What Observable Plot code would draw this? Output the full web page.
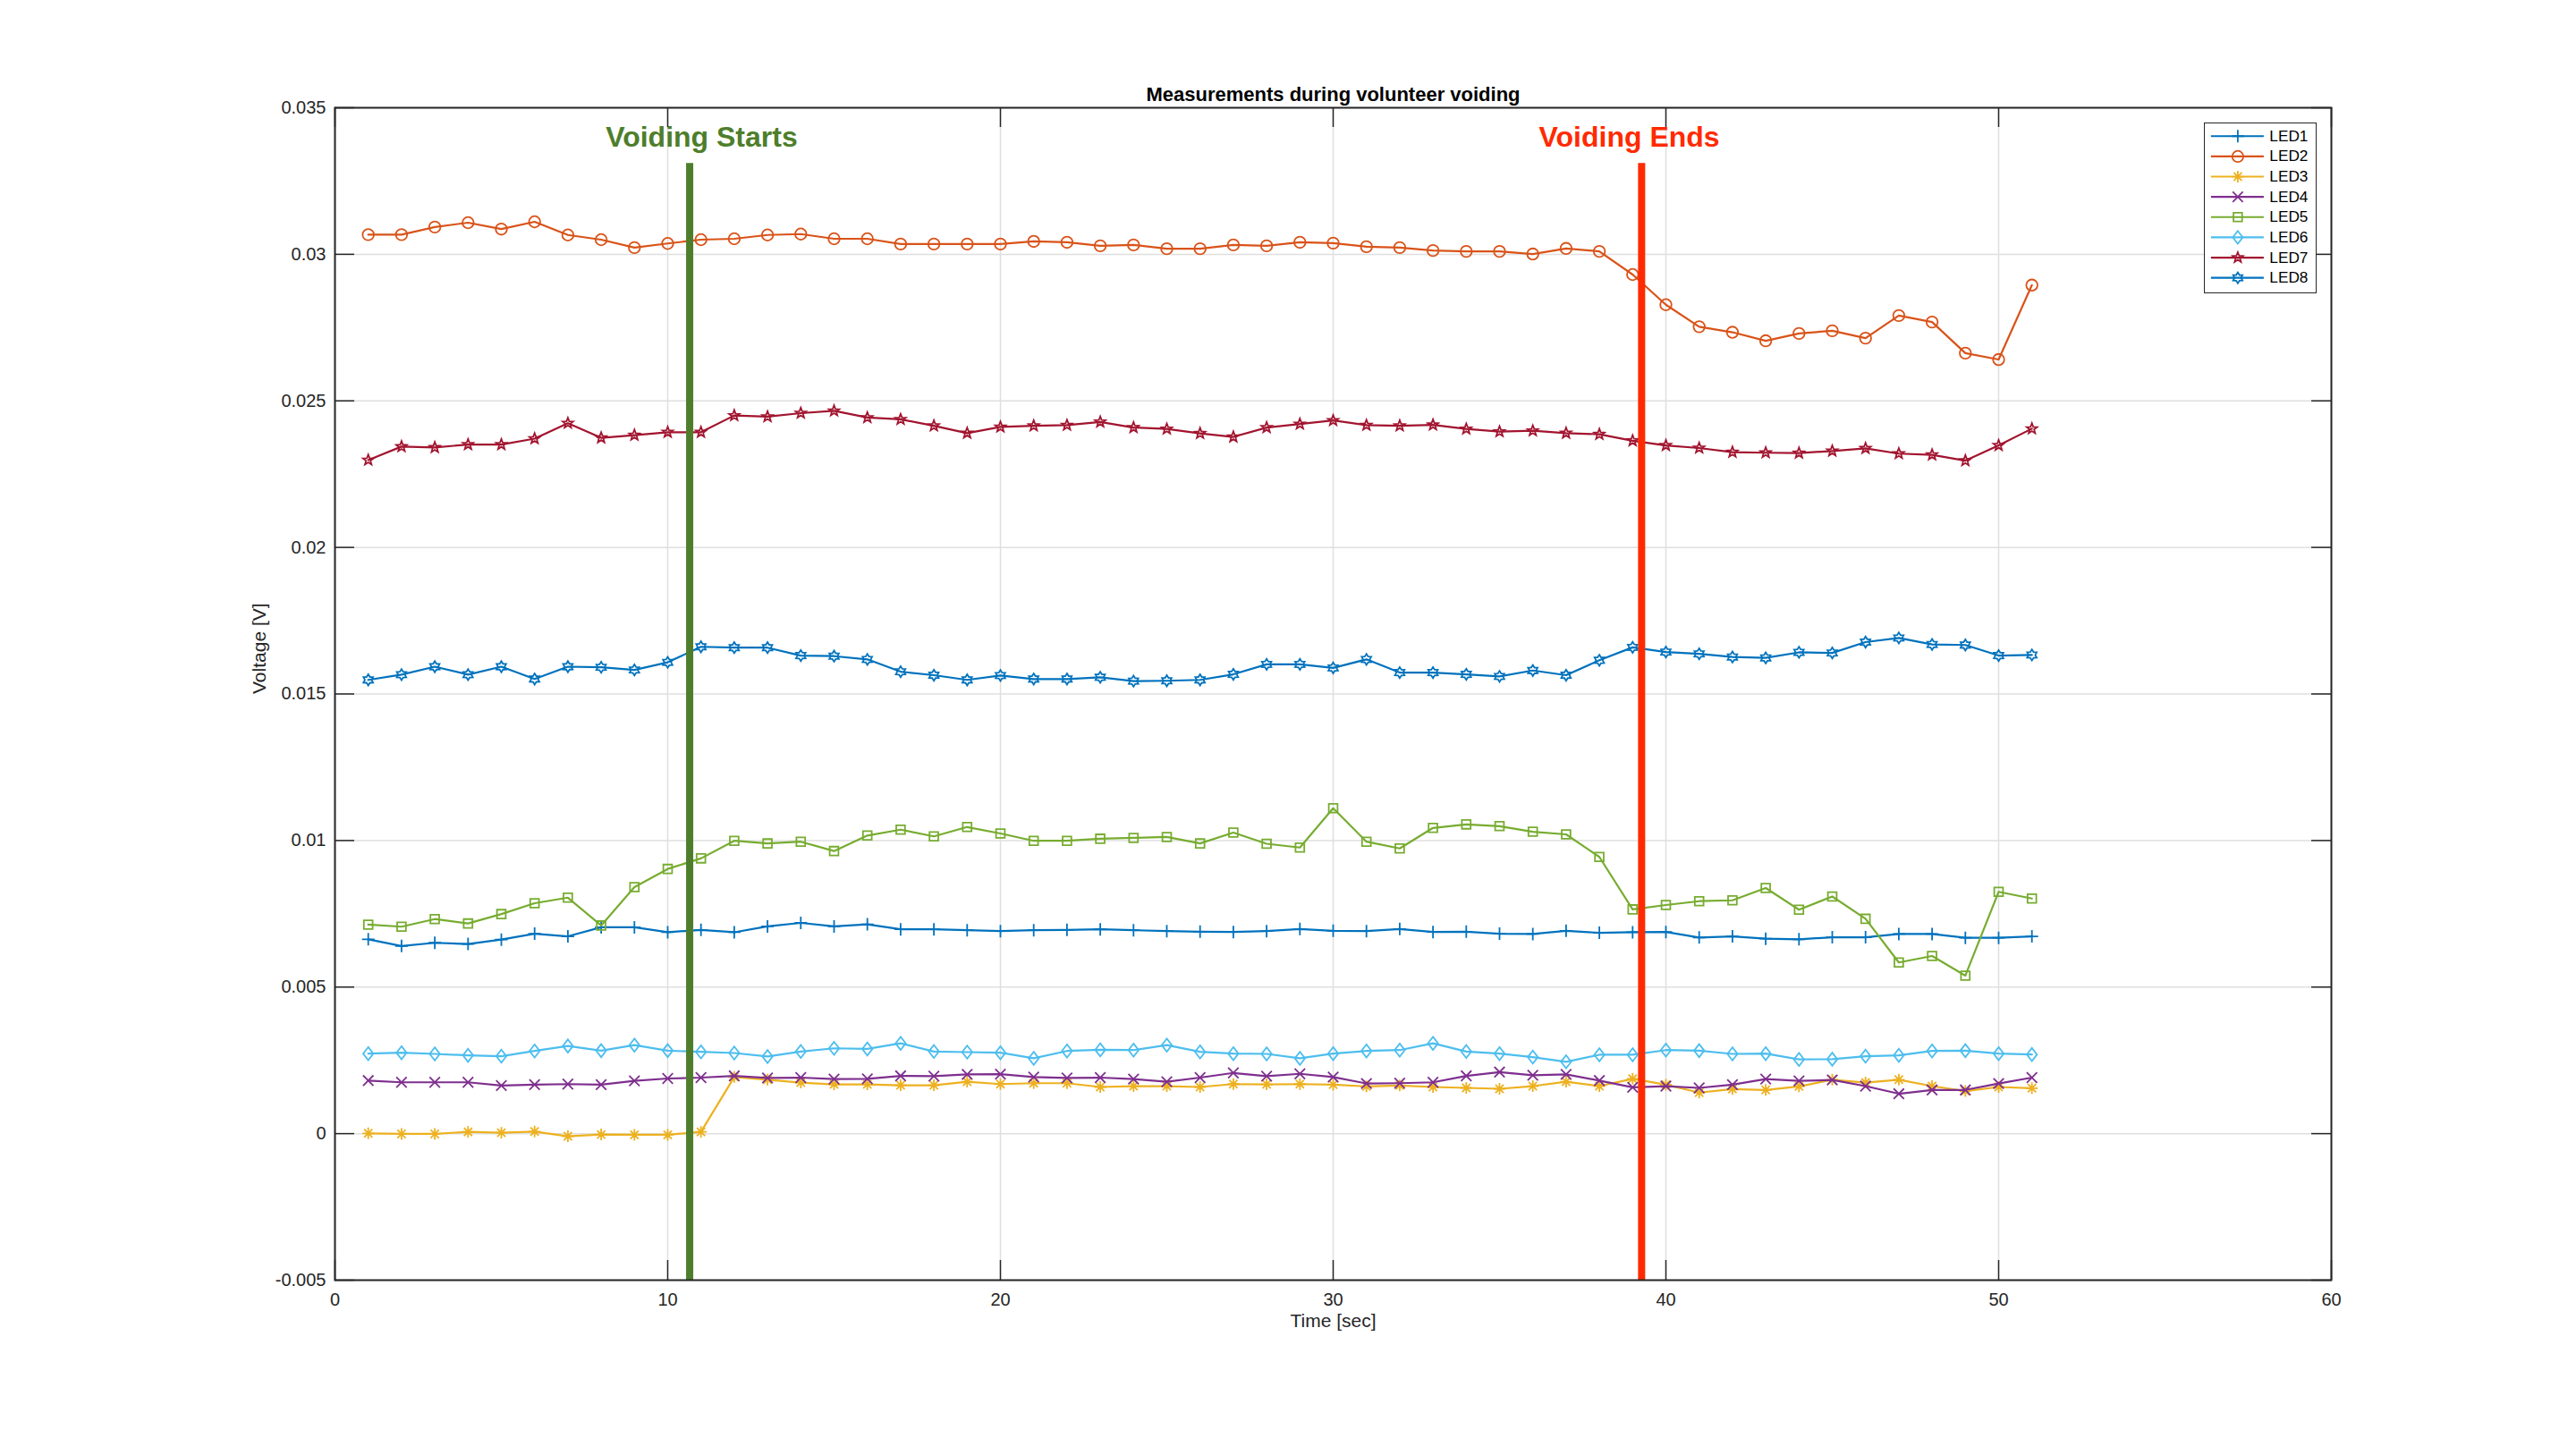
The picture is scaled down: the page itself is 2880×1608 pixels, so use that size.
<!DOCTYPE html>
<html>
<head>
<meta charset="utf-8">
<script src="https://cdn.jsdelivr.net/npm/d3@7"></script>
<script src="https://cdn.jsdelivr.net/npm/@observablehq/plot@0.6"></script>
<style>
  html, body { margin: 0; padding: 0; background: #fff; overflow: hidden; }
  #wrap { position: relative; width: 2880px; height: 1608px; }
  #wrap svg { display: block; }
  #legend { position: absolute; left: 2464px; top: 137px; width: 126px; height: 191px;
            box-sizing: border-box; border: 1.5px solid #262626; background: #fff; }
  #legend svg { position: absolute; left: -1.5px; top: -1.5px; }
</style>
</head>
<body>
<div id="wrap"><div id="legend"></div></div>
<script>
// ---------- data ----------
const title = "Measurements during volunteer voiding";
const xLabel = "Time [sec]";
const yLabel = "Voltage [V]";
const xTicks = [0, 10, 20, 30, 40, 50, 60];
const yTicks = [-0.005, 0, 0.005, 0.01, 0.015, 0.02, 0.025, 0.03, 0.035];
const seriesNames = ["LED1", "LED2", "LED3", "LED4", "LED5", "LED6", "LED7", "LED8"];
const time = [1,2,3,4,5,6,7,8,9,10,11,12,13,14,15,16,17,18,19,20,21,22,23,24,25,26,27,28,29,30,31,32,33,34,35,36,37,38,39,40,41,42,43,44,45,46,47,48,49,50,51];

const LED1 = [0.00663,0.00640,0.00651,0.00647,0.00662,0.00682,0.00673,0.00704,0.00704,0.00687,0.00695,0.00687,0.00707,0.00719,0.00707,0.00714,0.00697,0.00697,0.00694,0.00691,
  0.00694,0.00695,0.00697,0.00694,0.00691,0.00689,0.00688,0.00691,0.00698,0.00692,0.00691,0.00698,0.00688,0.00689,0.00682,0.00681,0.00692,0.00685,0.00687,
  0.00688,0.00669,0.00673,0.00665,0.00663,0.00670,0.00670,0.00681,0.00681,0.00668,0.00668,0.00673];
const LED2 = [0.03067,0.03067,0.03093,0.03108,0.03086,0.03111,0.03066,0.03050,0.03023,0.03037,0.03050,0.03053,0.03066,0.03069,0.03053,0.03053,0.03035,0.03035,0.03035,0.03035,
  0.03044,0.03041,0.03029,0.03032,0.03019,0.03019,0.03032,0.03029,0.03041,0.03038,0.03026,0.03023,0.03013,0.03010,0.03010,0.03001,0.03020,0.03010,0.02931,
  0.02828,0.02753,0.02734,0.02705,0.02730,0.02739,0.02714,0.02791,0.02769,0.02663,0.02641,0.02895];
const LED3 = [0.00001,-0.00001,-0.00001,0.00006,0.00003,0.00007,-0.00009,-0.00003,-0.00004,-0.00004,0.00006,0.00193,0.00184,0.00174,0.00168,0.00168,0.00165,0.00165,0.00177,0.00169,
  0.00172,0.00172,0.00159,0.00162,0.00162,0.00159,0.00169,0.00168,0.00169,0.00167,0.00161,0.00164,0.00159,0.00156,0.00153,0.00162,0.00177,0.00162,0.00187,
  0.00167,0.00140,0.00152,0.00149,0.00161,0.00184,0.00174,0.00184,0.00162,0.00145,0.00159,0.00155];
const LED4 = [0.00181,0.00175,0.00175,0.00175,0.00164,0.00167,0.00169,0.00167,0.00180,0.00188,0.00191,0.00197,0.00190,0.00191,0.00186,0.00187,0.00197,0.00196,0.00202,0.00203,
  0.00193,0.00190,0.00191,0.00186,0.00177,0.00191,0.00207,0.00196,0.00204,0.00193,0.00171,0.00172,0.00175,0.00197,0.00210,0.00199,0.00202,0.00181,0.00158,
  0.00162,0.00156,0.00167,0.00186,0.00180,0.00183,0.00162,0.00136,0.00149,0.00149,0.00171,0.00191];
const LED5 = [0.00713,0.00706,0.00732,0.00717,0.00749,0.00786,0.00805,0.00710,0.00841,0.00903,0.00939,0.00999,0.00990,0.00996,0.00964,0.01017,0.01037,0.01014,0.01046,0.01024,
  0.00999,0.00999,0.01006,0.01009,0.01012,0.00990,0.01027,0.00989,0.00976,0.01110,0.00996,0.00973,0.01043,0.01055,0.01049,0.01030,0.01021,0.00944,0.00765,
  0.00780,0.00793,0.00796,0.00838,0.00764,0.00809,0.00733,0.00584,0.00606,0.00539,0.00825,0.00802];
const LED6 = [0.00273,0.00276,0.00272,0.00267,0.00264,0.00282,0.00299,0.00283,0.00302,0.00283,0.00279,0.00275,0.00263,0.00280,0.00291,0.00289,0.00308,0.00280,0.00278,0.00276,
  0.00257,0.00282,0.00286,0.00285,0.00302,0.00279,0.00273,0.00272,0.00257,0.00273,0.00282,0.00285,0.00308,0.00280,0.00273,0.00261,0.00245,0.00269,0.00269,
  0.00285,0.00283,0.00272,0.00273,0.00253,0.00254,0.00264,0.00267,0.00282,0.00283,0.00273,0.00270];
const LED7 = [0.02298,0.02344,0.02341,0.02351,0.02351,0.02371,0.02424,0.02374,0.02383,0.02393,0.02393,0.02450,0.02446,0.02458,0.02466,0.02443,0.02437,0.02415,0.02390,0.02411,
  0.02415,0.02417,0.02428,0.02409,0.02404,0.02389,0.02377,0.02409,0.02421,0.02433,0.02417,0.02415,0.02418,0.02404,0.02395,0.02398,0.02390,0.02386,0.02364,
  0.02348,0.02339,0.02325,0.02323,0.02322,0.02329,0.02338,0.02320,0.02316,0.02296,0.02348,0.02405];
const LED8 = [0.01548,0.01566,0.01593,0.01566,0.01593,0.01551,0.01593,0.01591,0.01582,0.01608,0.01661,0.01658,0.01658,0.01631,0.01629,0.01618,0.01576,0.01564,0.01548,0.01563,
  0.01551,0.01551,0.01557,0.01544,0.01545,0.01548,0.01567,0.01601,0.01601,0.01589,0.01618,0.01573,0.01573,0.01567,0.01560,0.01580,0.01564,0.01615,0.01659,
  0.01643,0.01637,0.01626,0.01623,0.01642,0.01640,0.01677,0.01691,0.01669,0.01667,0.01631,0.01633];

const eventLabels = ["Voiding Starts", "Voiding Ends"];
const eventTimes = [10.66, 39.27];
const eventTops = [0.0331, 0.0331];
const eventLabelX = [11.02, 38.9];
const eventLabelY = [0.034, 0.034];

// ---------- styles ----------
const seriesColors = ["#0072BD", "#D95319", "#EDB120", "#7E2F8E", "#77AC30", "#4DBEEE", "#A2142F", "#0072BD"];
const seriesMarkers = ["plus", "circle", "asterisk", "times", "square", "diamond", "pentagram", "hexagram"];
const markerR = {plus: 7, circle: 6.3, asterisk: 6.5, times: 5.8, square: 4.9, diamond: 7.3, pentagram: 6.2, hexagram: 6.2};
const eventColors = ["#4E7E2B", "#FF2A00"];
const FONT = "'Liberation Sans', Arial, Helvetica, sans-serif";
const AXC = "#262626";

function makeSymbol(kind) {
  return {
    draw(ctx, size) {
      const r = Math.sqrt(size / Math.PI);
      const star = (n, inner) => {
        for (let k = 0; k < 2 * n; k++) {
          const a = -Math.PI / 2 + k * Math.PI / n;
          const rr = k % 2 === 0 ? r : r * inner;
          const px = rr * Math.cos(a), py = rr * Math.sin(a);
          if (k === 0) ctx.moveTo(px, py); else ctx.lineTo(px, py);
        }
        ctx.closePath();
      };
      switch (kind) {
        case "circle": ctx.moveTo(r, 0); ctx.arc(0, 0, r, 0, 2 * Math.PI); break;
        case "plus": ctx.moveTo(-r, 0); ctx.lineTo(r, 0); ctx.moveTo(0, -r); ctx.lineTo(0, r); break;
        case "times": ctx.moveTo(-r, -r); ctx.lineTo(r, r); ctx.moveTo(-r, r); ctx.lineTo(r, -r); break;
        case "asterisk": {
          const d = r * 0.7071;
          ctx.moveTo(-r, 0); ctx.lineTo(r, 0); ctx.moveTo(0, -r); ctx.lineTo(0, r);
          ctx.moveTo(-d, -d); ctx.lineTo(d, d); ctx.moveTo(-d, d); ctx.lineTo(d, -d); break;
        }
        case "square": ctx.moveTo(-r, -r); ctx.lineTo(r, -r); ctx.lineTo(r, r); ctx.lineTo(-r, r); ctx.closePath(); break;
        case "diamond": ctx.moveTo(0, -r); ctx.lineTo(0.78 * r, 0); ctx.lineTo(0, r); ctx.lineTo(-0.78 * r, 0); ctx.closePath(); break;
        case "pentagram": star(5, 0.42); break;
        case "hexagram": star(6, 0.6); break;
      }
    }
  };
}

const seriesValues = [LED1, LED2, LED3, LED4, LED5, LED6, LED7, LED8];

// ---------- main chart ----------
const marks = [
  Plot.ruleX(xTicks, {x: d => d, stroke: "#dfdfdf", strokeWidth: 1.5}),
  Plot.ruleY(yTicks, {y: d => d, stroke: "#dfdfdf", strokeWidth: 1.5})
];
seriesNames.forEach((name, i) => {
  const rows = time.map((t, j) => ({t, v: seriesValues[i][j]}));
  marks.push(Plot.line(rows, {x: "t", y: "v", stroke: seriesColors[i], strokeWidth: 2.2}));
  marks.push(Plot.dot(rows, {x: "t", y: "v", r: markerR[seriesMarkers[i]], symbol: makeSymbol(seriesMarkers[i]),
    stroke: seriesColors[i], fill: "none", strokeWidth: 1.8}));
});
eventLabels.forEach((label, i) => {
  marks.push(Plot.ruleX([eventTimes[i]], {x: d => d, y1: eventTops[i], y2: yTicks[0], stroke: eventColors[i], strokeWidth: 8, strokeLinecap: "butt"}));
  marks.push(Plot.text([label], {x: eventLabelX[i], y: eventLabelY[i], text: d => d, fill: eventColors[i],
    fontSize: 32, fontWeight: "bold", textAnchor: "middle"}));
});
marks.push(
  Plot.tickX(xTicks, {x: d => d, insetTop: 1311 - 22, stroke: AXC, strokeWidth: 1.5}),
  Plot.tickX(xTicks, {x: d => d, insetBottom: 1311 - 22, stroke: AXC, strokeWidth: 1.5}),
  Plot.tickY(yTicks, {y: d => d, insetRight: 2232 - 22, stroke: AXC, strokeWidth: 1.5}),
  Plot.tickY(yTicks, {y: d => d, insetLeft: 2232 - 22, stroke: AXC, strokeWidth: 1.5}),
  Plot.frame({stroke: AXC, strokeWidth: 2}),
  Plot.axisX({ticks: xTicks, tickSize: 0, tickPadding: 14, label: null, tickFormat: d => String(d), fontSize: 20}),
  Plot.axisY({ticks: yTicks, tickSize: 0, tickPadding: 10, label: null, tickFormat: d => d === 0 ? "0" : String(+d.toFixed(4)), fontSize: 20}),
  Plot.text([xLabel], {frameAnchor: "bottom", dy: 52, text: d => d, fontSize: 21, fill: AXC}),
  Plot.text([yLabel], {frameAnchor: "left", dx: -84, rotate: -90, text: d => d, fontSize: 21, fill: AXC}),
  Plot.text([title], {frameAnchor: "top", dy: -23, text: d => d, fontSize: 22, fontWeight: "bold", fill: "#000"})
);

const chart = Plot.plot({
  width: 2880, height: 1608,
  marginTop: 120, marginRight: 274, marginBottom: 177, marginLeft: 374,
  x: {domain: [0, 60]},
  y: {domain: [yTicks[0], yTicks[yTicks.length - 1]]},
  style: {fontFamily: FONT, fontSize: "20px", color: AXC, background: "#fff", overflow: "visible"},
  marks
});
document.getElementById("wrap").insertBefore(chart, document.getElementById("legend"));

// ---------- legend ----------
const legendMarks = [];
seriesNames.forEach((name, i) => {
  legendMarks.push(Plot.ruleY([name], {y: d => d, stroke: seriesColors[i], strokeWidth: 2.2, insetLeft: 8, insetRight: 58}));
  legendMarks.push(Plot.dot([name], {y: d => d, frameAnchor: "left", dx: 38, r: markerR[seriesMarkers[i]],
    symbol: makeSymbol(seriesMarkers[i]), stroke: seriesColors[i], fill: "none", strokeWidth: 1.8}));
});
legendMarks.push(Plot.text(seriesNames, {y: d => d, text: d => d, frameAnchor: "left", dx: 74, textAnchor: "start", fontSize: 17.5, fill: "#000"}));
const legend = Plot.plot({
  width: 126, height: 191,
  marginTop: 15, marginBottom: 15, marginLeft: 0, marginRight: 0,
  x: {axis: null, domain: [0, 1]},
  y: {type: "point", domain: seriesNames, axis: null, padding: 0},
  style: {fontFamily: FONT, background: "transparent", overflow: "visible"},
  marks: legendMarks
});
document.getElementById("legend").appendChild(legend);
</script>
</body>
</html>
